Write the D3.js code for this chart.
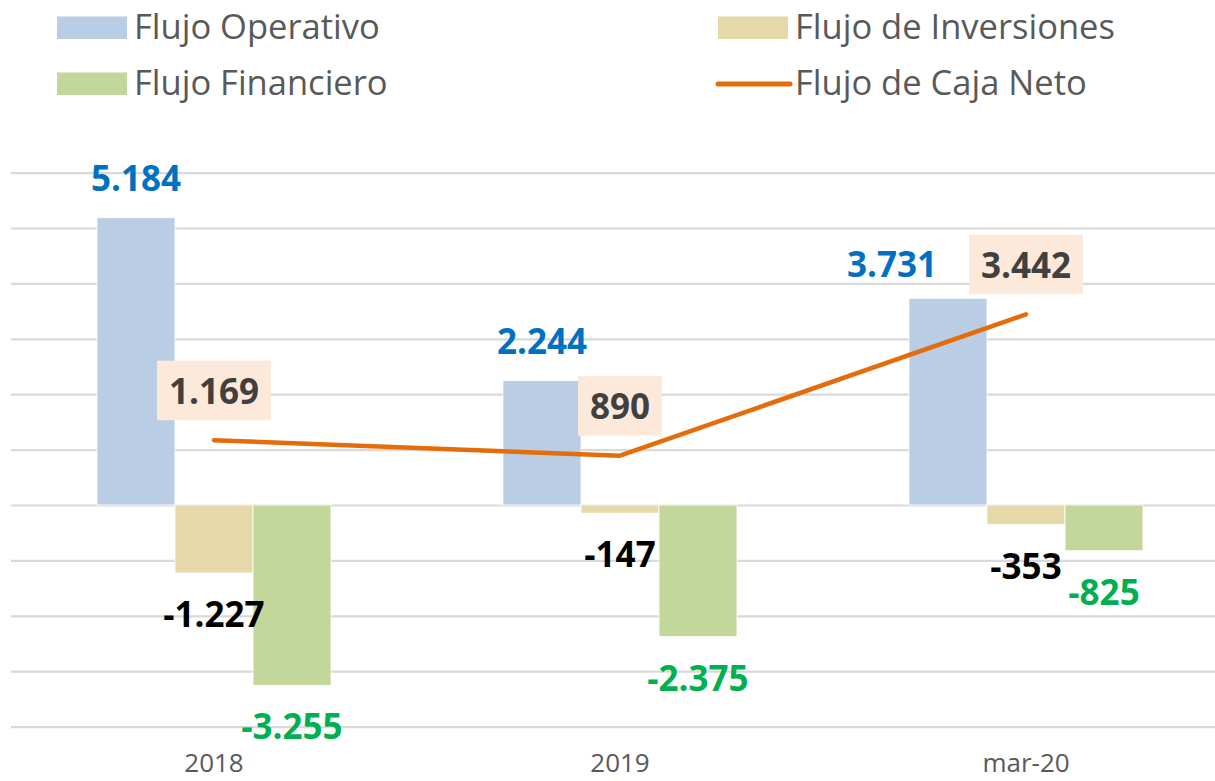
<!DOCTYPE html>
<html>
<head>
<meta charset="utf-8">
<script src="https://cdn.jsdelivr.net/npm/d3@7"></script>
<style>
  html, body { margin: 0; padding: 0; background: #fff; }
  svg { display: block; font-family: "Open Sans", "Noto Sans", sans-serif; }
</style>
</head>
<body>
<svg id="chart" width="1215" height="781"></svg>
<script>
// ---- data ----
const categories = ["2018", "2019", "mar-20"];
const barSeries = ["Flujo Operativo", "Flujo de Inversiones", "Flujo Financiero"];
const flujoOperativo = [5184, 2244, 3731];
const flujoInversiones = [-1227, -147, -353];
const flujoFinanciero = [-3255, -2375, -825];
const flujoCajaNeto = [1169, 890, 3442];
const lineSeries = "Flujo de Caja Neto";
const yTicks = [-4000, -3000, -2000, -1000, 0, 1000, 2000, 3000, 4000, 5000, 6000];

// ---- styles ----
const barColors = ["#B9CDE5", "#E6D8A8", "#C4D79B"];
const labelColors = ["#0070C0", "#000000", "#00B050"];
const lineColor = "#E46C0A";
const fmt = v => d3.format(",")(v).replace(/,/g, ".").replace("−", "-");

const svg = d3.select("#chart");
const W = 1215, H = 781;

const x0 = d3.scaleBand().domain(categories).range([11, 1229])
  .paddingInner(0.4236).paddingOuter(0.2118);
const x1 = d3.scaleBand().domain(barSeries).range([0, x0.bandwidth()]);
const y = d3.scaleLinear().domain([-4000, 6000]).range([726.6, 172.6]);

// gridlines
const grid = svg.append("g").attr("transform", "translate(11,0)")
  .call(d3.axisLeft(y).tickValues(yTicks).tickSize(-(W - 11)).tickFormat(""));
grid.select(".domain").remove();
grid.selectAll(".tick line").attr("stroke", "#D9D9D9").attr("stroke-width", 2.2);

// bars
const seriesValues = [flujoOperativo, flujoInversiones, flujoFinanciero];
const barData = [];
categories.forEach((c, i) => {
  barSeries.forEach((s, j) => barData.push({ cat: c, ser: s, j, v: seriesValues[j][i] }));
});

svg.append("g").selectAll("rect").data(barData).join("rect")
  .attr("x", d => x0(d.cat) + x1(d.ser))
  .attr("width", x1.bandwidth())
  .attr("y", d => y(Math.max(0, d.v)))
  .attr("height", d => Math.abs(y(d.v) - y(0)))
  .attr("fill", d => barColors[d.j])
  .attr("stroke", "#ffffff").attr("stroke-width", 0.8);

// x axis labels
const xAxis = svg.append("g").attr("transform", "translate(0,772)")
  .call(d3.axisBottom(x0).tickSize(0).tickPadding(0));
xAxis.select(".domain").remove();
xAxis.selectAll("text").attr("font-size", 26).attr("fill", "#595959")
  .attr("font-family", "'Open Sans', sans-serif").attr("dy", "0").attr("y", 0);

// net line
const cx = c => x0(c) + x0.bandwidth() / 2;
const line = d3.line().x((d, i) => cx(categories[i])).y(d => y(d));
svg.append("path").datum(flujoCajaNeto)
  .attr("d", line).attr("fill", "none").attr("stroke", lineColor)
  .attr("stroke-width", 4.5).attr("stroke-linecap", "round").attr("stroke-linejoin", "round");

// bar labels
const nudge = { "mar-20|Flujo Operativo": [-56, 6] };
svg.append("g").selectAll("text").data(barData).join("text")
  .attr("x", d => x0(d.cat) + x1(d.ser) + x1.bandwidth() / 2 + ((nudge[d.cat + "|" + d.ser] || [0, 0])[0]))
  .attr("y", d => (d.v >= 0 ? y(d.v) - 27 : y(d.v) + 54) + ((nudge[d.cat + "|" + d.ser] || [0, 0])[1]))
  .attr("text-anchor", "middle")
  .attr("font-size", 35).attr("font-weight", 700)
  .attr("fill", d => labelColors[d.j])
  .text(d => fmt(d.v));

// line labels with boxes
const lg = svg.append("g");
flujoCajaNeto.forEach((v, i) => {
  const px = cx(categories[i]);
  const base = y(v) - 36.5;
  const g = lg.append("g");
  const t = g.append("text").attr("x", px).attr("y", base)
    .attr("text-anchor", "middle").attr("font-size", 35).attr("font-weight", 700)
    .attr("fill", "#404040").text(fmt(v));
  const w = t.node().getComputedTextLength() + 24;
  g.insert("rect", "text").attr("x", px - w / 2).attr("y", base - 43)
    .attr("width", w).attr("height", 59.5).attr("fill", "#FDE9D9");
});

// legend
const legendItems = [
  { name: barSeries[0], type: "rect", color: barColors[0], x: 57, y: 39 },
  { name: barSeries[1], type: "rect", color: barColors[1], x: 718, y: 39 },
  { name: barSeries[2], type: "rect", color: barColors[2], x: 57, y: 95 },
  { name: lineSeries, type: "line", color: lineColor, x: 718, y: 95 }
];
const leg = svg.append("g");
legendItems.forEach(it => {
  if (it.type === "rect") {
    leg.append("rect").attr("x", it.x).attr("y", it.y - 22.5).attr("width", 70).attr("height", 22.5)
      .attr("fill", it.color);
  } else {
    leg.append("line").attr("x1", it.x).attr("x2", it.x + 72).attr("y1", it.y - 11).attr("y2", it.y - 11)
      .attr("stroke", it.color).attr("stroke-width", 5).attr("stroke-linecap", "round");
  }
  leg.append("text").attr("x", it.x + 77).attr("y", it.y)
    .attr("font-size", 34.5).attr("fill", "#595959").text(it.name);
});
</script>
</body>
</html>
